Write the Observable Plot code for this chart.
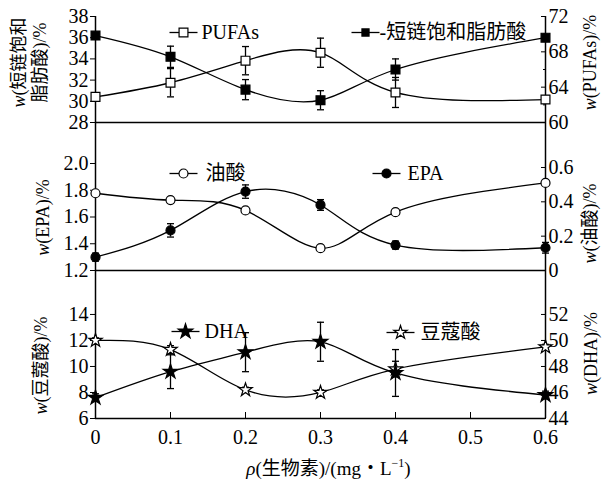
<!DOCTYPE html>
<html><head><meta charset="utf-8">
<script src="https://cdn.jsdelivr.net/npm/d3@7"></script>
<script src="https://cdn.jsdelivr.net/npm/@observablehq/plot@0.6"></script>
<style>
body{margin:0;background:#fff;}
#chart{position:relative;width:603px;height:484px;overflow:hidden;}
#chart svg{position:absolute;left:0;}
</style></head><body><div id="chart"></div>
<script>
// ---- data ----
const conc = [0, 0.1, 0.2, 0.3, 0.4, 0.6];
const xTicks = [0, 0.1, 0.2, 0.3, 0.4, 0.5, 0.6];
// top panel
const scfa = [36.2, 34.2, 31.1, 30.1, 33.0, 36.0];      // 短链饱和脂肪酸 (left)
const scfaErr = [0.3, 1.0, 0.95, 0.9, 1.0, 0.3];
const pufa = [62.9, 64.5, 67.0, 67.9, 63.4, 62.6];      // PUFAs (right)
const pufaErr = [0.3, 1.6, 1.6, 1.65, 1.7, 0.4];
const topLeftTicks = [28, 30, 32, 34, 36, 38];
const topRightTicks = [60, 64, 68, 72];
const topRightMinor = [62, 66, 70];
// middle panel
const epa = [1.30, 1.50, 1.79, 1.69, 1.39, 1.37];       // EPA (left)
const epaErr = [0.03, 0.05, 0.05, 0.04, 0.03, 0.04];
const oleic = [0.45, 0.41, 0.35, 0.13, 0.34, 0.51];     // 油酸 (right)
const oleicErr = [0, 0, 0, 0, 0, 0];
const midLeftTicks = [1.2, 1.4, 1.6, 1.8, 2.0];
const midRightTicks = [0, 0.2, 0.4, 0.6];
// bottom panel
const myristic = [12.0, 11.3, 8.2, 8.0, 9.8, 11.5];     // 豆蔻酸 (left)
const myristicErr = [0.2, 0.3, 0.2, 0.2, 0.6, 0.2];
const dha = [45.6, 47.6, 49.1, 49.9, 47.5, 45.8];       // DHA (right)
const dhaErr = [0.3, 1.3, 1.5, 1.5, 1.8, 0.3];
const botLeftTicks = [6, 8, 10, 12, 14];
const botRightTicks = [44, 46, 48, 50, 52];

// ---- helpers ----
const FONT = "'Liberation Serif', 'Noto Sans CJK SC', serif";
const capSym = {draw(ctx) { ctx.moveTo(-3.5, 0); ctx.lineTo(3.5, 0); }};
const legLine = {draw(ctx) { ctx.moveTo(-14, 0); ctx.lineTo(14, 0); }};
const chart = document.getElementById("chart");

function rowsOf(vals, errs, toL) {
  return conc.map((x, i) => ({x, y: toL(vals[i]), lo: toL(vals[i] - errs[i]), hi: toL(vals[i] + errs[i]), e: errs[i]}));
}
function seriesMarks(rows, sym, fill, r) {
  const eb = rows.filter(d => d.e > 0);
  return [
    Plot.line(rows, {x: "x", y: "y", curve: "natural", stroke: "black", strokeWidth: 1.3}),
    Plot.ruleX(eb, {x: "x", y1: "lo", y2: "hi", stroke: "black", strokeWidth: 1.3}),
    Plot.dot(eb, {x: "x", y: "lo", symbol: capSym, stroke: "black", strokeWidth: 1.3}),
    Plot.dot(eb, {x: "x", y: "hi", symbol: capSym, stroke: "black", strokeWidth: 1.3}),
    Plot.dot(rows, {x: "x", y: "y", symbol: sym, r, fill, stroke: "black", strokeWidth: 1.2})
  ];
}
function legend(dx, dy, sym, fill, r, label, tdx) {
  return [
    Plot.dot([0], {frameAnchor: "top-left", dx, dy, symbol: legLine, stroke: "black", strokeWidth: 1.3}),
    Plot.dot([0], {frameAnchor: "top-left", dx, dy, symbol: sym, r, fill, stroke: "black", strokeWidth: 1.2}),
    Plot.text([label], {frameAnchor: "top-left", dx: tdx, dy, text: d => d, textAnchor: "start", lineAnchor: "middle", fontSize: 20})
  ];
}
function ylabel(text, anchor, dx, dy, fs = 18) {
  return Plot.text([text], {frameAnchor: anchor, dx, dy, text: d => d, rotate: -90, textAnchor: "middle", lineAnchor: "middle", fontSize: fs});
}
function panel({top, height, mt, mb, yDomain, leftTicks, leftFmt, rightTicks, rightMinor = [], rightFmt, toL, fromL, marks}) {
  const svg = Plot.plot({
    width: 603, height, marginLeft: 95, marginRight: 58, marginTop: mt, marginBottom: mb,
    style: {background: "transparent", fontFamily: FONT, fontSize: "20px", overflow: "visible"},
    x: {domain: [0, 0.6], axis: null},
    y: {domain: yDomain},
    marks: [
      Plot.ruleY([yDomain[0]], {stroke: "black", strokeWidth: 1.5}),
      Plot.ruleX([0, 0.6], {stroke: "black", strokeWidth: 1.5}),
      Plot.axisY({anchor: "left", ticks: leftTicks, tickFormat: leftFmt, tickSize: 5, tickPadding: 2, label: null, fontSize: 20}),
      Plot.axisY({anchor: "right", ticks: rightTicks.map(toL), tickFormat: d => rightFmt(fromL(d)), tickSize: -5, tickPadding: 8, label: null, fontSize: 20}),
      Plot.axisY({anchor: "right", ticks: rightMinor.map(toL), tickFormat: () => "", tickSize: -3, label: null}),
      ...marks
    ]
  });
  svg.style.top = top + "px";
  chart.appendChild(svg);
  return svg;
}
const f0 = d => String(Math.round(d));
const f1 = d => d3.format(".1f")(d);
const fr = d => { const v = Math.round(d * 10) / 10; return v === 0 ? "0" : d3.format(".1f")(v); };

// ---- top panel ----
{
  const toL = v => 28 + (v - 60) * 10 / 12, fromL = y => 60 + (y - 28) * 12 / 10;
  panel({top: 0, height: 124, mt: 16, mb: 2, yDomain: [28, 38], leftTicks: topLeftTicks, leftFmt: f0,
    rightTicks: topRightTicks, rightMinor: topRightMinor, rightFmt: f0, toL, fromL,
    marks: [
      ...seriesMarks(rowsOf(pufa, pufaErr, toL), "square", "white", 5),
      ...seriesMarks(rowsOf(scfa, scfaErr, v => v), "square", "black", 5),
      ...legend(88, 16, "square", "white", 5, "PUFAs", 106),
      ...legend(270, 16, "square", "black", 4, "-短链饱和脂肪酸", 284),
      ylabel("w(短链饱和", "left", -76, -7),
      ylabel("脂肪酸)/%", "left", -55, -7),
      ylabel("w(PUFAs)/%", "right", 45, -7)
    ]});
}
// ---- middle panel ----
{
  const k = 1.2837;
  const toL = v => 1.2 + v * k, fromL = y => (y - 1.2) / k;
  panel({top: 120, height: 152, mt: 2, mb: 2, yDomain: [1.2, 2.3066], leftTicks: midLeftTicks, leftFmt: f1,
    rightTicks: midRightTicks, rightFmt: fr, toL, fromL,
    marks: [
      ...seriesMarks(rowsOf(oleic, oleicErr, toL), "circle", "white", 4.5),
      ...seriesMarks(rowsOf(epa, epaErr, v => v), "circle", "black", 4.5),
      ...legend(88, 51, "circle", "white", 4.5, "油酸", 110),
      ...legend(291, 51, "circle", "black", 4.5, "EPA", 312),
      ylabel("w(EPA)/%", "left", -52, 21),
      ylabel("w(油酸)/%", "right", 45, 27)
    ]});
}
// ---- bottom panel ----
{
  const toL = v => v - 38, fromL = y => y + 38;
  panel({top: 268, height: 216, mt: 2, mb: 66, yDomain: [6, 17.38], leftTicks: botLeftTicks, leftFmt: f0,
    rightTicks: botRightTicks, rightFmt: f0, toL, fromL,
    marks: [
      Plot.axisX({ticks: xTicks, tickFormat: d => d === 0 ? "0" : d3.format(".1f")(d), tickSize: -6, tickPadding: 17, label: null, fontSize: 20}),
      ...seriesMarks(rowsOf(myristic, myristicErr, v => v), "star", "white", 4.2),
      ...seriesMarks(rowsOf(dha, dhaErr, toL), "star", "black", 4.6),
      ...legend(90, 61, "star", "black", 4.6, "DHA", 109),
      ...legend(305, 62, "star", "white", 4.2, "豆蔻酸", 325),
      ylabel("w(豆蔻酸)/%", "left", -54, 21),
      ylabel("w(DHA)/%", "right", 46, 9),
      Plot.text(["ρ(生物素)/(mg・L-1)"], {frameAnchor: "bottom", dx: 8, dy: 50, text: d => d, textAnchor: "middle", lineAnchor: "middle", fontSize: 19})
    ]});
}

// ---- italic w / ρ and superscript ----
const esc = s => s.replace(/&/g, "&amp;").replace(/</g, "&lt;");
d3.select(chart).selectAll("text").each(function() {
  const t = this.textContent;
  if (this.children.length) return;
  if (t.startsWith("w(")) {
    this.innerHTML = '<tspan font-style="italic">w</tspan>' + esc(t.slice(1));
  } else if (t.startsWith("ρ(")) {
    this.innerHTML = '<tspan font-style="italic">ρ</tspan>(生物素)/(mg・L<tspan font-size="12" dy="-8">−1</tspan><tspan dy="8">)</tspan>';
  }
});
</script></body></html>
